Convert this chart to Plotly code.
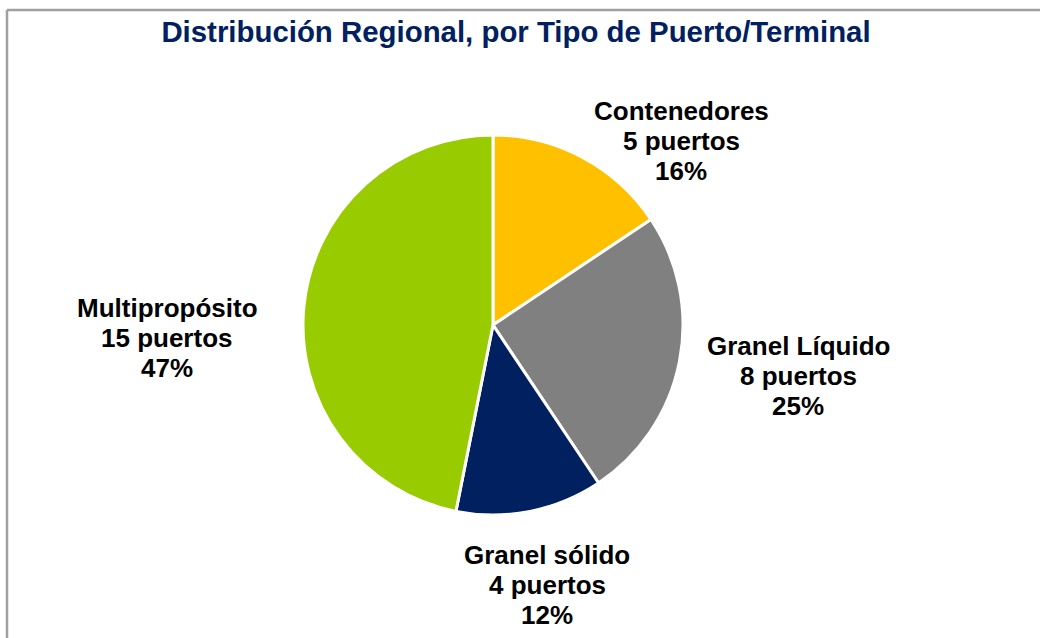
import plotly.graph_objects as go

categories = ["Contenedores", "Granel Líquido", "Granel sólido", "Multipropósito"]
ports = [5, 8, 4, 15]
unit_label = "puertos"
title_text = "Distribución Regional, por Tipo de Puerto/Terminal"

colors = ["#FFC000", "#808080", "#002060", "#99CC00"]

W, H = 1040, 638
cx, cy, r = 493, 325, 190
# label block centres, px offsets from the pie centre (layout only)
label_offsets = [(188, -184), (305, 51), (54, 260), (-326, 13)]
line_gap = 29.7
FONT = "Liberation Sans, Arial, sans-serif"

total = sum(ports)
pct_text = [f"{round(100 * v / total)}%" for v in ports]

fig = go.Figure(go.Pie(
    labels=categories,
    values=ports,
    sort=False,
    direction="clockwise",
    rotation=0,
    marker=dict(colors=colors, line=dict(color="white", width=3)),
    textinfo="none",
    domain=dict(x=[(cx - r) / W, (cx + r) / W], y=[(H - cy - r) / H, (H - cy + r) / H]),
    showlegend=False,
    hoverinfo="skip",
))

annotations = []
for cat, v, p, (dx, dy) in zip(categories, ports, pct_text, label_offsets):
    lines = [cat, f"{v} {unit_label}", p]
    for i, t in enumerate(lines):
        px = cx + dx
        py = cy + dy + (i - 1) * line_gap
        annotations.append(dict(
            text="<b>" + t + "</b>", x=px / W, y=1 - py / H, xref="paper", yref="paper",
            xanchor="center", yanchor="middle", showarrow=False,
            font=dict(family=FONT, size=26, color="black"),
        ))

# chart-area frame (top and left edges visible), px
frame_x, frame_y = 7, 10
grey = "#A0A0A0"
fig.update_layout(
    width=W, height=H,
    margin=dict(l=0, r=0, t=0, b=0),
    paper_bgcolor="white",
    title=dict(
        text="<b>" + title_text + "</b>",
        x=516 / W, xanchor="center", xref="paper",
        y=1 - 32 / H, yanchor="middle", yref="container",
        font=dict(family=FONT, size=29.4, color="#002060"),
    ),
    font=dict(family=FONT),
    annotations=annotations,
    shapes=[
        dict(type="line", xref="paper", yref="paper",
             x0=frame_x / W, x1=1, y0=1 - frame_y / H, y1=1 - frame_y / H,
             line=dict(color=grey, width=2.5)),
        dict(type="line", xref="paper", yref="paper",
             x0=frame_x / W, x1=frame_x / W, y0=0, y1=1 - frame_y / H,
             line=dict(color=grey, width=2.5)),
    ],
)

fig.write_html(
    "out.html",
    config={"displayModeBar": False},
    post_script="document.body.style.margin='0';document.body.style.overflow='hidden';",
)
